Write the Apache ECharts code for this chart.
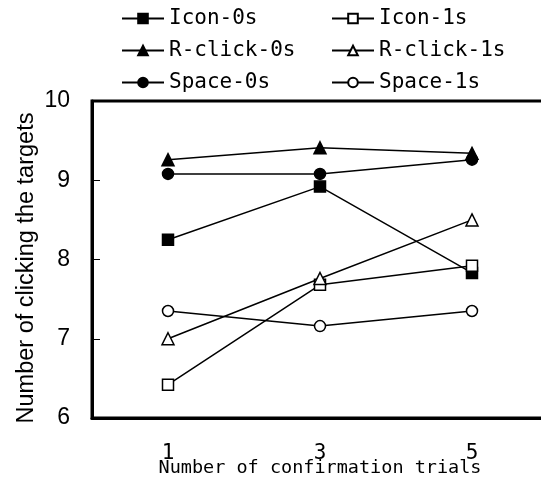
<!DOCTYPE html>
<html>
<head>
<meta charset="utf-8">
<script src="https://cdn.jsdelivr.net/npm/echarts@6/dist/echarts.min.js"></script>
<style>html,body{margin:0;padding:0;background:#fff}#c{width:541px;height:486px}</style>
</head>
<body>
<div id="c"></div>
<script>
var categories = ['1', '3', '5'];
var icon0 = [8.25, 8.92, 7.83];
var icon1 = [6.42, 7.68, 7.92];
var rclick0 = [9.26, 9.41, 9.34];
var rclick1 = [7.00, 7.76, 8.50];
var space0 = [9.08, 9.08, 9.26];
var space1 = [7.35, 7.16, 7.35];
var yTicks = [6, 7, 8, 9, 10];

var mono = 'DejaVu Sans Mono';
var sans = 'Liberation Sans';

function mk(name, data, symbol, filled) {
  return {
    name: name, type: 'line', data: data,
    symbol: symbol, symbolSize: symbol === 'triangle' ? 12 : 11,
    showAllSymbol: true,
    lineStyle: { color: '#000', width: 1.5 },
    itemStyle: { color: filled ? '#000' : '#fff', borderColor: '#000', borderWidth: 1.5 },
    emphasis: { disabled: true },
    animation: false
  };
}

var legendCommon = {
  orient: 'vertical', itemWidth: 42, itemHeight: 12, itemGap: 11, padding: 0,
  textStyle: { fontFamily: mono, fontSize: 21, color: '#000' },
  selectedMode: false
};

var chart = echarts.init(document.getElementById('c'), null, { renderer: 'canvas' });
chart.setOption({
  backgroundColor: '#fff',
  animation: false,
  legend: [
    Object.assign({}, legendCommon, { left: 121, top: 8, data: ['Icon-0s', 'R-click-0s', 'Space-0s'] }),
    Object.assign({}, legendCommon, { left: 331, top: 8, data: ['Icon-1s', 'R-click-1s', 'Space-1s'] })
  ],
  grid: { left: 92, top: 101, width: 456, height: 317, show: true, borderColor: '#000', borderWidth: 3,
          containLabel: false, outerBoundsMode: 'none' },
  xAxis: {
    type: 'category', data: categories, boundaryGap: true,
    axisLine: { lineStyle: { color: '#000', width: 3 } },
    axisTick: { inside: true, length: 7, lineStyle: { color: '#000', width: 1 } },
    axisLabel: { color: '#000', fontFamily: mono, fontSize: 21, margin: 25 },
    name: 'Number of confirmation trials', nameLocation: 'middle', nameGap: 41, nameMoveOverlap: false,
    nameTextStyle: { color: '#000', fontFamily: mono, fontSize: 18.5 },
    splitLine: { show: false }
  },
  yAxis: {
    type: 'value', min: yTicks[0], max: yTicks[yTicks.length - 1], interval: 1,
    axisLine: { show: true, lineStyle: { color: '#000', width: 3 } },
    axisTick: { show: true, inside: true, length: 8, lineStyle: { color: '#000', width: 1 } },
    axisLabel: { color: '#000', fontFamily: sans, fontSize: 23, margin: 22 },
    splitLine: { show: false },
    name: 'Number of clicking the targets', nameLocation: 'middle', nameRotate: 90, nameGap: 53, nameMoveOverlap: false,
    nameTextStyle: { color: '#000', fontFamily: sans, fontSize: 23.5, padding: [0, 17, 0, 0] }
  },
  series: [
    mk('Icon-0s', icon0, 'rect', true),
    mk('Icon-1s', icon1, 'rect', false),
    mk('R-click-0s', rclick0, 'triangle', true),
    mk('R-click-1s', rclick1, 'triangle', false),
    mk('Space-0s', space0, 'circle', true),
    mk('Space-1s', space1, 'circle', false)
  ]
});
</script>
</body>
</html>
